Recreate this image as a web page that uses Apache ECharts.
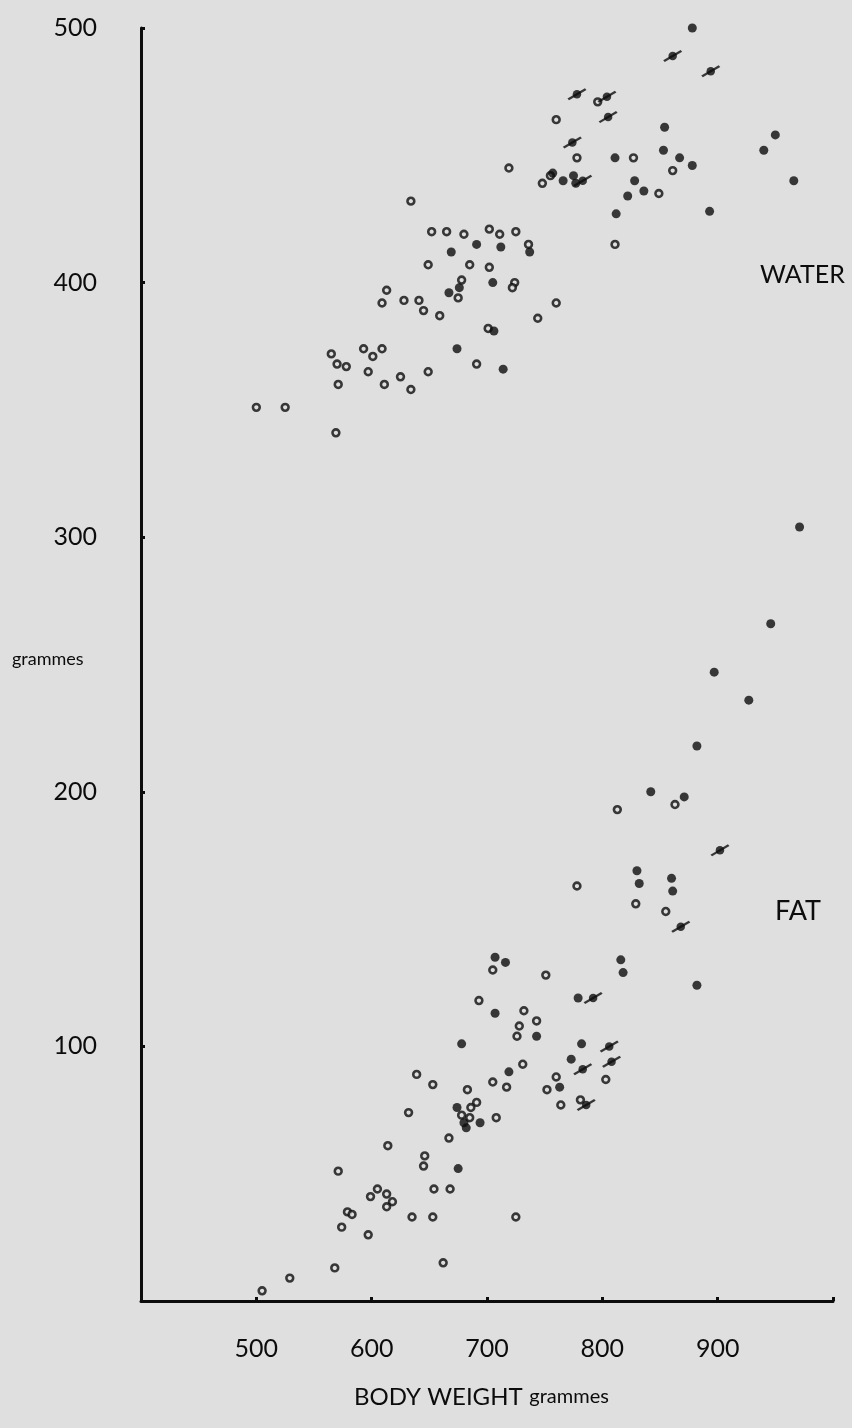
<!DOCTYPE html>
<html>
<head>
<meta charset="utf-8">
<script src="https://cdn.jsdelivr.net/npm/echarts/dist/echarts.min.js"></script>
<style>
html,body{margin:0;padding:0;background:#dfdfdf;}
#chart{width:852px;height:1428px;}
</style>
</head>
<body>
<div id="chart"></div>
<script>
// ---- data (body weight g, grammes) ----
var xTickLabels = ['500', '600', '700', '800', '900'];
var yTickLabels = ['100', '200', '300', '400', '500'];

var waterOpen = [[500,351],[525,351],[569,341],[565,372],[570,368],[578,367],[571,360],[593,374],[601,371],[609,374],[597,365],[611,360],[625,363],[634,358],[649,365],[613,397],[609,392],[628,393],[641,393],[645,389],[659,387],[634,432],[652,420],[665,420],[680,419],[702,421],[711,419],[725,420],[736,415],[649,407],[685,407],[702,406],[678,401],[724,400],[722,398],[675,394],[744,386],[701,382],[691,368],[760,392],[719,445],[748,439],[755,442],[760,464],[778,449],[796,471],[827,449],[861,444],[849,435],[811,415]];
var waterFilled = [[691,415],[712,414],[737,412],[669,412],[676,398],[705,400],[667,396],[706,381],[674,374],[714,366],[878,500],[854,461],[950,458],[940,452],[853,452],[811,449],[867,449],[878,446],[966,440],[757,443],[766,440],[775,442],[777,439],[828,440],[836,436],[822,434],[812,427],[893,428]];
var waterSlash = [[861,489],[894,483],[778,474],[804,473],[805,465],[774,455],[783,440]];

var fatOpen = [[863,195],[813,193],[778,163],[829,156],[855,153],[751,128],[705,130],[693,118],[732,114],[743,110],[728,108],[726,104],[731,93],[639,89],[653,85],[705,86],[717,84],[760,88],[752,83],[803,87],[683,83],[691,78],[678,73],[686,76],[685,72],[708,72],[764,77],[781,79],[667,64],[632,74],[614,61],[646,57],[645,53],[571,51],[605,44],[599,41],[613,42],[618,39],[613,37],[654,44],[668,44],[579,35],[583,34],[574,29],[597,26],[635,33],[653,33],[725,33],[568,13],[662,15],[529,9],[505,4]];
var fatFilled = [[971,304],[946,266],[897,247],[927,236],[882,218],[842,200],[871,198],[830,169],[832,164],[860,166],[861,161],[816,134],[818,129],[882,124],[779,119],[707,135],[716,133],[707,113],[743,104],[678,101],[782,101],[773,95],[719,90],[763,84],[674,76],[680,70],[682,68],[694,70],[675,52]];
var fatSlash = [[902,177],[868,147],[792,119],[806,100],[808,94],[783,91],[786,77]];

// ---- styles ----
var BG = '#dfdfdf';
var INK = '#0c0c0c';
var FONT = 'Lato, "Open Sans", sans-serif';
var slashLine = 'path://M0,9.5L16.5,0L18,1.6L1.5,11.1Z';

function openSeries(name, data) {
  return { name: name, type: 'scatter', data: data, symbol: 'circle', symbolSize: 6.8,
    itemStyle: { color: BG, borderColor: INK, borderWidth: 2.6 }, z: 3 };
}
function filledSeries(name, data) {
  return { name: name, type: 'scatter', data: data, symbol: 'circle', symbolSize: 9,
    itemStyle: { color: INK }, z: 4 };
}
function slashSeries(name, data) {
  return [
    { name: name, type: 'scatter', data: data, symbol: 'circle', symbolSize: 8.5,
      itemStyle: { color: INK }, z: 5 },
    { name: name, type: 'scatter', data: data, symbol: slashLine, symbolSize: [19, 12],
      itemStyle: { color: INK }, z: 6 }
  ];
}

var series = [
  openSeries('Water (open)', waterOpen),
  filledSeries('Water (filled)', waterFilled),
  openSeries('Fat (open)', fatOpen),
  filledSeries('Fat (filled)', fatFilled)
].concat(slashSeries('Water (slashed)', waterSlash), slashSeries('Fat (slashed)', fatSlash));

var chart = echarts.init(document.getElementById('chart'), null, { renderer: 'canvas' });
chart.setOption({
  backgroundColor: BG,
  animation: false,
  grid: { left: 141, right: 19, top: 28, bottom: 127, containLabel: false },
  xAxis: {
    type: 'value', min: 400, max: 1000, interval: 100,
    axisLine: { show: true, lineStyle: { color: INK, width: 3 } },
    axisTick: { show: true, inside: true, length: 4, lineStyle: { color: INK, width: 3 } },
    splitLine: { show: false },
    axisLabel: {
      margin: 35, color: INK, fontFamily: FONT, fontSize: 25,
      formatter: function (v) { var s = String(v); return xTickLabels.indexOf(s) >= 0 ? s : ''; }
    }
  },
  yAxis: {
    type: 'value', min: 0, max: 500, interval: 100,
    axisLine: { show: true, lineStyle: { color: INK, width: 3 } },
    axisTick: { show: true, inside: true, length: 4, lineStyle: { color: INK, width: 3 } },
    splitLine: { show: false },
    axisLabel: {
      margin: 44, color: INK, fontFamily: FONT, fontSize: 25,
      formatter: function (v) { var s = String(v); return yTickLabels.indexOf(s) >= 0 ? s : ''; }
    }
  },
  graphic: [
    { type: 'text', left: 12, top: 650, style: { text: 'grammes', fill: INK, font: '18px ' + FONT } },
    { type: 'text', left: 760, top: 262, style: { text: 'WATER', fill: INK, font: '25px ' + FONT } },
    { type: 'text', left: 775, top: 898, style: { text: 'FAT', fill: INK, font: '27px ' + FONT } },
    { type: 'text', left: 354, top: 1385, style: {
        text: '{a|BODY WEIGHT}  {b|grammes}',
        rich: { a: { fontSize: 24, fontFamily: FONT, fill: INK, color: INK }, b: { fontSize: 20, fontFamily: FONT, fill: INK, color: INK } },
        fill: INK } }
  ],
  series: series
});
</script>
</body>
</html>
